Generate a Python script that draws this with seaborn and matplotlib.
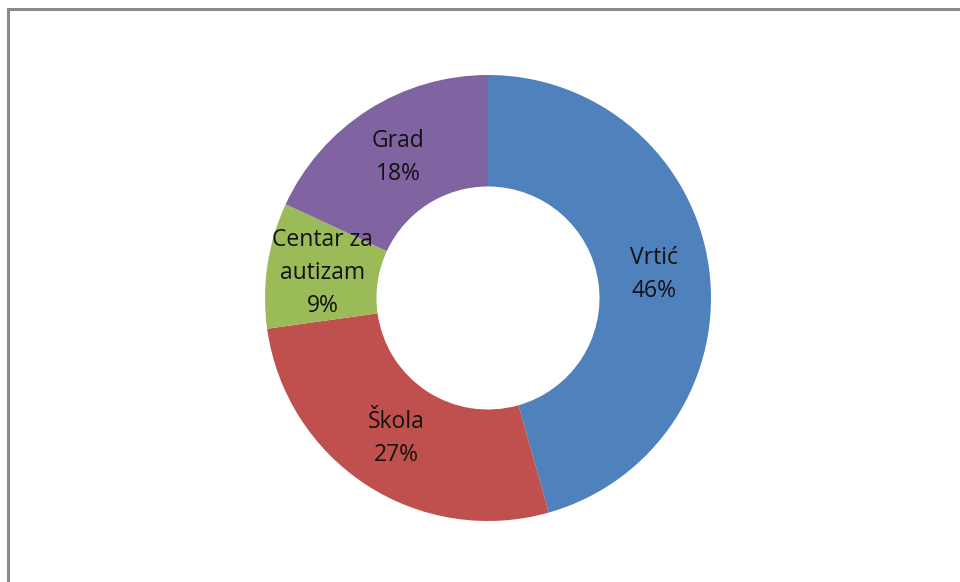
import matplotlib

matplotlib.use("Agg")
import matplotlib.pyplot as plt
import numpy as np
import seaborn as sns
from matplotlib.patches import Rectangle

categories = ["Vrtić", "Škola", "Centar za\nautizam", "Grad"]
shares = [45.6, 27.2, 9.1, 18.1]
colors = ["#4F81BD", "#C0504D", "#9BBB59", "#8064A2"]

sns.set_theme(style="white")
plt.rcParams["font.family"] = ["Open Sans", "DejaVu Sans"]

W, H = 960, 582
fig = plt.figure(figsize=(W / 100, H / 100), dpi=100)

# chart frame (left/top edges visible, right/bottom run off the image)
fig.patches.append(
    Rectangle((8 / W, -0.05), 1.1, 1 - 9 / H + 0.05, transform=fig.transFigure,
              fill=False, edgecolor="#898989", linewidth=2.2)
)

cx, cy, r = 488, 298, 223
ax = fig.add_axes([(cx - r) / W, (H - cy - r) / H, 2 * r / W, 2 * r / H])
wedges, _ = ax.pie(
    shares,
    colors=colors,
    startangle=90,
    counterclock=False,
    radius=1,
    wedgeprops={"width": 0.5, "linewidth": 0},
)
ax.set_xlim(-1, 1)
ax.set_ylim(-1, 1)
ax.axis("off")

for w, name, val in zip(wedges, categories, shares):
    ang = np.deg2rad((w.theta1 + w.theta2) / 2)
    ax.text(0.75 * np.cos(ang), 0.75 * np.sin(ang), f"{name}\n{val:.0f}%",
            ha="center", va="center", fontsize=16.5, color="#111111",
            linespacing=1.5)

fig.savefig("out.png", dpi=100)
plt.close(fig)
